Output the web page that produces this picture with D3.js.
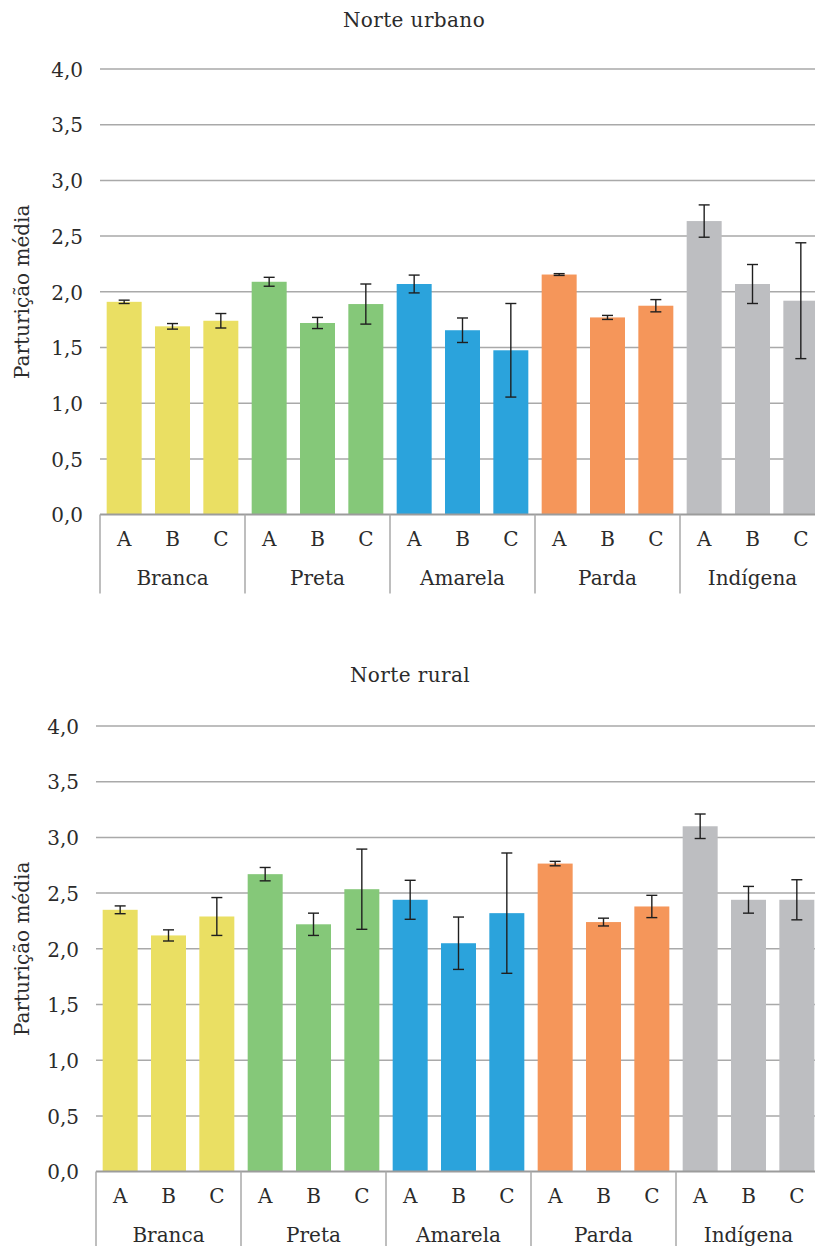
<!DOCTYPE html>
<html>
<head>
<meta charset="utf-8">
<script src="https://cdn.jsdelivr.net/npm/d3@7"></script>
<style>
  html, body { margin: 0; padding: 0; background: #fff; }
  svg { display: block; }
  text { font-family: "DejaVu Serif", serif; fill: #2b2b2b; }
</style>
</head>
<body>
<svg id="chart" width="815" height="1246"></svg>
<script>
// Ethnic groups and the three subgroups drawn inside each
const groups = ["Branca", "Preta", "Amarela", "Parda", "Indígena"];
const subgroups = ["A", "B", "C"];
const groupColors = ["#EADF63", "#85C879", "#2BA3DC", "#F5965A", "#BDBEC1"];
const yTicks = [0, 0.5, 1, 1.5, 2, 2.5, 3, 3.5, 4];

// Norte urbano: mean parturition per group (A, B, C) and error half-widths
const urbanValues = [
  [1.91, 1.69, 1.74],
  [2.09, 1.72, 1.89],
  [2.07, 1.655, 1.475],
  [2.155, 1.77, 1.875],
  [2.635, 2.07, 1.92]
];
const urbanErrors = [
  [0.015, 0.025, 0.065],
  [0.04, 0.05, 0.18],
  [0.08, 0.11, 0.42],
  [0.008, 0.018, 0.055],
  [0.145, 0.175, 0.52]
];

// Norte rural
const ruralValues = [
  [2.35, 2.12, 2.29],
  [2.67, 2.22, 2.535],
  [2.44, 2.05, 2.32],
  [2.765, 2.24, 2.38],
  [3.10, 2.44, 2.44]
];
const ruralErrors = [
  [0.035, 0.05, 0.17],
  [0.06, 0.1, 0.36],
  [0.175, 0.235, 0.54],
  [0.02, 0.035, 0.1],
  [0.11, 0.12, 0.18]
];

const svg = d3.select("#chart");
const fmt = v => d3.format(".1f")(v).replace(".", ",");

function drawPanel(opts) {
  const { title, values, errors, left, top, titleX, titleY } = opts;
  const plotH = 445.6;
  const groupW = 145;
  const plotW = groupW * groups.length;

  const g = svg.append("g").attr("transform", `translate(${left},${top})`);

  const x0 = d3.scaleBand().domain(groups).range([0, plotW]).padding(0);
  const x1 = d3.scaleBand().domain(subgroups).range([0, groupW])
    .paddingInner(0.276).paddingOuter(0.138);
  const y = d3.scaleLinear().domain([0, 4]).range([plotH, 0]);

  // title
  svg.append("text")
    .attr("x", titleX).attr("y", titleY)
    .attr("text-anchor", "middle")
    .attr("font-size", 20)
    .attr("letter-spacing", 0.4)
    .text(title);

  // horizontal gridlines
  g.append("g").selectAll("line")
    .data(yTicks.filter(t => t > 0))
    .join("line")
    .attr("x1", 0).attr("x2", plotW)
    .attr("y1", d => y(d)).attr("y2", d => y(d))
    .attr("stroke", "#A9A9A9").attr("stroke-width", 1.5);

  // y axis tick labels
  const yAxis = d3.axisLeft(y).tickValues(yTicks).tickFormat(fmt).tickSize(0).tickPadding(17);
  const ya = g.append("g").call(yAxis);
  ya.select(".domain").remove();
  ya.selectAll("text")
    .attr("font-family", "DejaVu Serif, serif")
    .attr("font-size", 20)
    .attr("fill", "#2b2b2b")
    .attr("dy", "0.36em");

  // y axis title
  g.append("text")
    .attr("transform", `translate(${22 - left},${plotH / 2}) rotate(-90)`)
    .attr("text-anchor", "middle")
    .attr("dominant-baseline", "central")
    .attr("font-size", 20)
    .text("Parturição média");

  // bars
  const gg = g.selectAll(".grp")
    .data(groups)
    .join("g")
    .attr("class", "grp")
    .attr("transform", d => `translate(${x0(d)},0)`);

  gg.selectAll("rect")
    .data((d, i) => subgroups.map((s, j) => ({ s, v: values[i][j], c: groupColors[i] })))
    .join("rect")
    .attr("x", d => x1(d.s))
    .attr("width", x1.bandwidth())
    .attr("y", d => y(d.v))
    .attr("height", d => plotH - y(d.v))
    .attr("fill", d => d.c);

  // error bars
  const cap = 5.5;
  const eb = gg.selectAll(".err")
    .data((d, i) => subgroups.map((s, j) => ({ s, v: values[i][j], e: errors[i][j] })))
    .join("g")
    .attr("class", "err")
    .attr("transform", d => `translate(${x1(d.s) + x1.bandwidth() / 2},0)`)
    .attr("stroke", "#1f1f1f").attr("stroke-width", 1.4);
  eb.append("line")
    .attr("y1", d => y(d.v + d.e)).attr("y2", d => y(d.v - d.e));
  eb.append("line")
    .attr("x1", -cap).attr("x2", cap)
    .attr("y1", d => y(d.v + d.e)).attr("y2", d => y(d.v + d.e));
  eb.append("line")
    .attr("x1", -cap).attr("x2", cap)
    .attr("y1", d => y(d.v - d.e)).attr("y2", d => y(d.v - d.e));

  // baseline
  g.append("line")
    .attr("x1", 0).attr("x2", plotW)
    .attr("y1", plotH).attr("y2", plotH)
    .attr("stroke", "#9C9C9C").attr("stroke-width", 2);

  // group separators below the axis
  const sepLen = 79;
  g.append("g").selectAll("line")
    .data(groups)
    .join("line")
    .attr("x1", d => x0(d)).attr("x2", d => x0(d))
    .attr("y1", plotH).attr("y2", plotH + sepLen)
    .attr("stroke", "#A9A9A9").attr("stroke-width", 1.5);

  // subgroup labels
  gg.selectAll(".sub")
    .data(subgroups)
    .join("text")
    .attr("class", "sub")
    .attr("x", d => x1(d) + x1.bandwidth() / 2)
    .attr("y", plotH + 24)
    .attr("text-anchor", "middle")
    .attr("dominant-baseline", "central")
    .attr("font-size", 20)
    .text(d => d);

  // group labels
  gg.append("text")
    .attr("x", groupW / 2)
    .attr("y", plotH + 63)
    .attr("text-anchor", "middle")
    .attr("dominant-baseline", "central")
    .attr("font-size", 20)
    .text(d => d);
}

drawPanel({ title: "Norte urbano", values: urbanValues, errors: urbanErrors,
  left: 100, top: 69, titleX: 414, titleY: 27 });
drawPanel({ title: "Norte rural", values: ruralValues, errors: ruralErrors,
  left: 96, top: 726, titleX: 410, titleY: 682 });
</script>
</body>
</html>
